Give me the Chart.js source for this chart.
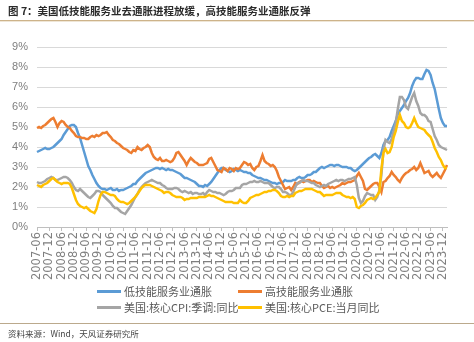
<!DOCTYPE html>
<html>
<head>
<meta charset="utf-8">
<script src="https://cdn.jsdelivr.net/npm/chart.js@4.4.1/dist/chart.umd.min.js"></script>
<style>
  body { margin: 0; background: #fff; }
  #wrap { position: relative; width: 474px; height: 342px; overflow: hidden; background: #fff;
          font-family: "Noto Sans CJK SC", "Noto Sans", sans-serif; }
  #chart { position: absolute; left: 0; top: 0; }
  #title { position: absolute; left: 8px; top: 3px; font-size: 10.5px; font-weight: bold; color: #2b2b2b; white-space: nowrap; }
  .rule { position: absolute; left: 0; width: 474px; height: 1px; }
  #legend { position: absolute; left: 0; top: 0; width: 474px; height: 342px; pointer-events: none; }
  .item { position: absolute; height: 14px; font-size: 11px; color: #595959; white-space: nowrap; }
  .item i { position: absolute; left: 0; top: 6px; width: 24px; height: 3px; }
  .item span { position: absolute; left: 27px; top: -1px; }
  #source { position: absolute; left: 8px; top: 327px; font-size: 8.5px; color: #444; white-space: nowrap; }
</style>
</head>
<body>
<div id="wrap">
  <canvas id="chart" width="474" height="290"></canvas>
  <div id="title">图 7：美国低技能服务业去通胀进程放缓，高技能服务业通胀反弹</div>
  <div class="rule" style="top:20px;background:#cdb38a"></div>
  <div class="rule" style="top:21px;background:#efe6d6"></div>
  <div id="legend"></div>
  <div class="rule" style="top:323px;background:#bba98c"></div>
  <div id="source">资料来源：Wind，天风证券研究所</div>
</div>
<script>
// 月度数据：2007-06 至 2024-02（每行一个自然年）
const startYear = 2007, startMonth = 6, monthCount = 201;

const lowSkill = [
  3.75, 3.8, 3.85, 3.9, 3.95, 3.9, 3.9,
  3.95, 4.0, 4.1, 4.2, 4.3, 4.4, 4.6, 4.75, 4.9, 5.05, 5.1, 5.1,
  5.0, 4.7, 4.45, 4.1, 3.75, 3.4, 3.05, 2.85, 2.6, 2.4, 2.2, 2.05,
  1.95, 1.9, 1.9, 1.85, 1.9, 1.95, 1.85, 1.85, 1.9, 1.8, 1.85, 1.85,
  1.9, 1.95, 2.0, 2.05, 2.15, 2.15, 2.3, 2.4, 2.5, 2.6, 2.7, 2.75,
  2.8, 2.85, 2.9, 2.95, 2.95, 2.9, 2.95, 2.9, 2.85, 2.9, 2.85, 2.85,
  2.8, 2.75, 2.7, 2.65, 2.55, 2.45, 2.45, 2.4, 2.35, 2.3, 2.25, 2.15,
  2.05, 2.05, 2.0, 2.1, 2.05, 2.15, 2.25, 2.4, 2.55, 2.7, 2.85, 2.95,
  2.95, 2.85, 2.8, 2.75, 2.8, 2.9, 2.85, 2.8, 2.85, 2.8, 2.75, 2.75,
  2.7, 2.7, 2.6, 2.55, 2.5, 2.45, 2.45, 2.4, 2.35, 2.35, 2.3, 2.25,
  2.2, 2.2, 2.15, 2.2, 2.2, 2.25, 2.35, 2.3, 2.3, 2.3, 2.35, 2.35,
  2.45, 2.5, 2.45, 2.45, 2.5, 2.6, 2.6, 2.65, 2.75, 2.75, 2.85, 2.95,
  3.0, 2.95, 3.0, 3.05, 3.1, 3.1, 3.05, 3.1, 3.1, 3.05, 3.0, 3.0,
  3.0, 2.95, 2.95, 2.85, 2.8, 2.85, 2.95, 3.05, 3.15, 3.25, 3.35, 3.45,
  3.5, 3.6, 3.65, 3.55, 3.45, 3.7, 4.1, 4.3, 4.35, 4.5, 4.8, 5.05,
  5.3, 5.65, 5.8, 5.95, 6.1, 6.3, 6.45, 6.7, 7.05, 7.3, 7.45, 7.45,
  7.4, 7.4, 7.65, 7.85, 7.8, 7.6, 7.2, 6.9, 6.4, 5.9, 5.45, 5.2,
  5.05, 5.05
];

const highSkill = [
  4.95, 5.0, 4.95, 5.05, 5.1, 5.2, 5.3,
  5.4, 5.45, 5.25, 5.0, 5.2, 5.3, 5.25, 5.1, 5.0, 4.95, 4.8, 4.7,
  4.55, 4.5, 4.5, 4.45, 4.45, 4.4, 4.4, 4.5, 4.55, 4.5, 4.6, 4.55,
  4.6, 4.7, 4.7, 4.75, 4.6, 4.5, 4.35, 4.3, 4.2, 4.15, 4.05, 3.95,
  3.9, 3.85, 3.75, 3.7, 3.85, 3.8, 4.0, 3.9, 3.85, 3.95, 4.0, 4.1,
  4.0, 3.7, 3.5, 3.4, 3.35, 3.45, 3.3, 3.3, 3.35, 3.3, 3.25, 3.3,
  3.45, 3.7, 3.75, 3.6, 3.45, 3.3, 3.1, 3.3, 3.45, 3.35, 3.25, 3.2,
  3.1, 3.1, 3.1, 3.15, 3.2, 3.4, 3.45, 3.25, 3.05, 2.85, 2.8, 2.75,
  2.95, 2.9, 2.8, 2.95, 2.9, 2.8, 2.95, 2.9, 2.95, 3.1, 3.25, 3.2,
  3.1, 3.15, 2.95, 2.85, 3.0, 3.05, 3.3, 3.6, 3.3, 3.2, 3.15, 3.05,
  3.1, 3.0, 2.8, 2.5, 2.3, 2.1, 1.9, 1.95, 2.0, 1.85, 2.0, 2.2,
  2.15, 2.25, 2.3, 2.25, 2.3, 2.35, 2.35, 2.25, 2.3, 2.25, 2.2, 2.2,
  2.05, 1.95, 2.0, 2.05, 1.95, 2.0, 1.95, 2.0, 2.05, 2.1, 2.2, 2.15,
  2.2, 2.25, 2.25, 2.3, 2.35, 2.55, 2.7, 2.5, 2.3, 1.9, 1.85, 1.95,
  2.05, 2.15, 2.2, 2.2, 2.0, 1.75, 2.25, 2.3, 2.45, 2.55, 2.75, 2.6,
  2.5, 2.35, 2.25, 2.45, 2.6, 2.7, 2.75, 2.85, 2.9, 3.0, 2.85, 2.95,
  3.2, 2.95, 2.7, 2.75, 2.8, 2.6, 2.5, 2.6, 2.7, 2.55, 2.45, 2.65,
  2.85, 3.1
];

const coreCpi = [
  2.25, 2.2, 2.2, 2.25, 2.3, 2.4, 2.45,
  2.5, 2.45, 2.35, 2.35, 2.4, 2.45, 2.5, 2.5, 2.45, 2.35, 2.2, 2.0,
  1.85, 1.8, 1.9, 1.8, 1.7, 1.6, 1.5, 1.45, 1.55, 1.65, 1.8, 1.8,
  1.75, 1.6, 1.5, 1.4, 1.3, 1.2, 1.05, 0.95, 0.95, 0.85, 0.75, 0.7,
  0.65, 0.8, 0.95, 1.1, 1.3, 1.5, 1.65, 1.85, 2.0, 2.1, 2.2, 2.25,
  2.3, 2.35, 2.3, 2.25, 2.2, 2.2, 2.1, 2.05, 1.95, 1.9, 1.9, 1.9,
  1.95, 1.95, 1.9, 1.8, 1.75, 1.8, 1.75, 1.7, 1.75, 1.65, 1.7, 1.7,
  1.65, 1.65, 1.7, 1.6, 1.75, 1.85, 1.8, 1.75, 1.75, 1.7, 1.7, 1.65,
  1.6, 1.65, 1.75, 1.8, 1.8, 1.85, 1.95, 1.95, 1.95, 2.1, 2.15, 2.15,
  2.2, 2.25, 2.25, 2.3, 2.25, 2.25, 2.3, 2.25, 2.2, 2.2, 2.2, 2.1,
  2.0, 1.95, 2.0, 2.0, 1.9, 1.75, 1.75, 1.7, 1.6, 1.6, 1.75, 2.0,
  2.2, 2.2, 2.3, 2.35, 2.3, 2.3, 2.25, 2.2, 2.2, 2.1, 2.05, 2.0,
  2.05, 2.1, 2.05, 2.15, 2.2, 2.25, 2.3, 2.35, 2.3, 2.35, 2.35, 2.3,
  2.35, 2.4, 2.4, 2.45, 2.5, 2.1, 1.45, 1.2, 1.3, 1.55, 1.7, 1.65,
  1.6, 1.6, 1.35, 1.5, 1.85, 2.6, 3.85, 4.35, 4.25, 4.2, 4.4, 4.8,
  5.2, 5.9, 6.5, 6.5, 6.35, 6.0, 5.9, 6.2, 6.5, 6.7, 6.3, 6.05,
  5.7, 5.6, 5.6, 5.5, 5.3, 5.25, 4.9, 4.55, 4.35, 4.1, 4.0, 3.95,
  3.9, 3.85
];

const corePce = [
  2.1, 2.05, 2.0, 2.1, 2.15, 2.2, 2.3,
  2.4, 2.45, 2.35, 2.25, 2.2, 2.15, 2.2, 2.2, 2.2, 2.15, 1.95, 1.65,
  1.35, 1.15, 1.05, 1.0, 0.95, 1.0, 0.9, 0.8, 0.75, 0.7, 0.9, 1.3,
  1.6, 1.75, 1.75, 1.7, 1.65, 1.6, 1.6, 1.55, 1.4, 1.3, 1.25, 1.25,
  1.2, 1.15, 1.2, 1.3, 1.4, 1.5, 1.65, 1.8, 1.95, 2.05, 2.1, 2.1,
  2.1, 2.05, 2.0, 1.95, 1.9, 1.85, 1.8, 1.7, 1.75, 1.75, 1.7, 1.6,
  1.55, 1.5, 1.5, 1.5, 1.45, 1.35, 1.4, 1.4, 1.45, 1.45, 1.45, 1.45,
  1.5, 1.5, 1.5, 1.5, 1.55, 1.6, 1.55, 1.55, 1.5, 1.45, 1.4, 1.35,
  1.3, 1.25, 1.25, 1.25, 1.25, 1.2, 1.2, 1.2, 1.35, 1.25, 1.2, 1.2,
  1.3, 1.45, 1.5, 1.55, 1.6, 1.6, 1.65, 1.7, 1.75, 1.75, 1.8, 1.8,
  1.85, 1.85, 1.8, 1.7, 1.55, 1.5, 1.5, 1.55, 1.5, 1.55, 1.55, 1.7,
  1.75, 1.8, 1.8, 1.85, 1.9, 1.9, 1.9, 1.9, 1.85, 1.8, 1.75, 1.75,
  1.65, 1.55, 1.6, 1.6, 1.6, 1.6, 1.65, 1.7, 1.7, 1.7, 1.6, 1.55,
  1.5, 1.5, 1.45, 1.5, 1.4, 1.0, 0.95, 1.05, 1.1, 1.2, 1.35, 1.4,
  1.45, 1.4, 1.45, 1.6, 1.75, 2.9, 3.7, 3.9, 3.7, 3.75, 4.0, 4.5,
  4.8, 5.25, 5.6, 5.3, 5.2, 5.0, 4.95, 5.0, 5.2, 5.45, 5.2, 5.0,
  4.95, 4.9, 4.85, 4.7, 4.6, 4.5, 4.25, 3.95, 3.75, 3.5, 3.35, 3.1,
  2.95, 2.95
];

const seriesNames = ['低技能服务业通胀', '高技能服务业通胀', '美国:核心CPI:季调:同比', '美国:核心PCE:当月同比'];
const seriesColors = ['#5b9bd5', '#ed7d31', '#a5a5a5', '#ffc000'];
const yTicks = [0, 1, 2, 3, 4, 5, 6, 7, 8, 9];

// 月份标签
const months = [];
for (let k = 0; k < monthCount; k++) {
    const m = startMonth - 1 + k;
    const y = startYear + Math.floor(m / 12);
    const mm = (m % 12) + 1;
    months.push(y + '-' + (mm < 10 ? '0' + mm : mm));
}

const seriesData = [lowSkill, highSkill, coreCpi, corePce];

new Chart(document.getElementById('chart'), {
    type: 'line',
    data: {
        labels: months,
        datasets: seriesData.map((d, k) => ({
            label: seriesNames[k],
            data: d,
            borderColor: seriesColors[k],
            backgroundColor: seriesColors[k],
            borderWidth: 2.5,
            pointRadius: 0,
            tension: 0,
            order: 4 - k
        }))
    },
    options: {
        responsive: false,
        animation: false,
        layout: { padding: { left: 0, right: 27, top: 47, bottom: 0 } },
        plugins: { legend: { display: false }, tooltip: { enabled: false } },
        scales: {
            x: {
                offset: false,
                border: { display: true, color: '#bfbfbf', width: 1 },
                grid: { drawOnChartArea: false, drawTicks: true, tickLength: 4, color: '#bfbfbf' },
                ticks: {
                    autoSkip: false,
                    maxRotation: 90,
                    minRotation: 90,
                    padding: 1,
                    color: '#7f7f7f',
                    font: { family: 'DejaVu Sans', size: 11.5 },
                    callback: function(value) {
                        const lab = this.getLabelForValue(value);
                        return (lab.endsWith('-06') || lab.endsWith('-12')) ? lab : null;
                    }
                },
                afterFit: function(scale) { scale.height = 290 - 227; }
            },
            y: {
                min: 0,
                max: 9,
                afterBuildTicks: function(scale) { scale.ticks = yTicks.map(v => ({ value: v })); },
                border: { display: false },
                grid: { color: '#d9d9d9', lineWidth: 1, drawTicks: false },
                ticks: {
                    padding: 9,
                    color: '#7f7f7f',
                    font: { family: 'Liberation Sans', size: 11 },
                    callback: v => v + '%'
                },
                afterFit: function(scale) { scale.width = 37; }
            }
        }
    }
});

// 图例（两列两行）
const legendPos = [[97, 284], [238, 284], [97, 300], [238, 300]];
const legendBox = document.getElementById('legend');
seriesNames.forEach((name, k) => {
    const el = document.createElement('div');
    el.className = 'item';
    el.style.left = legendPos[k][0] + 'px';
    el.style.top = legendPos[k][1] + 'px';
    el.innerHTML = '<i style="background:' + seriesColors[k] + '"></i><span>' + name + '</span>';
    legendBox.appendChild(el);
});
</script>
</body>
</html>
